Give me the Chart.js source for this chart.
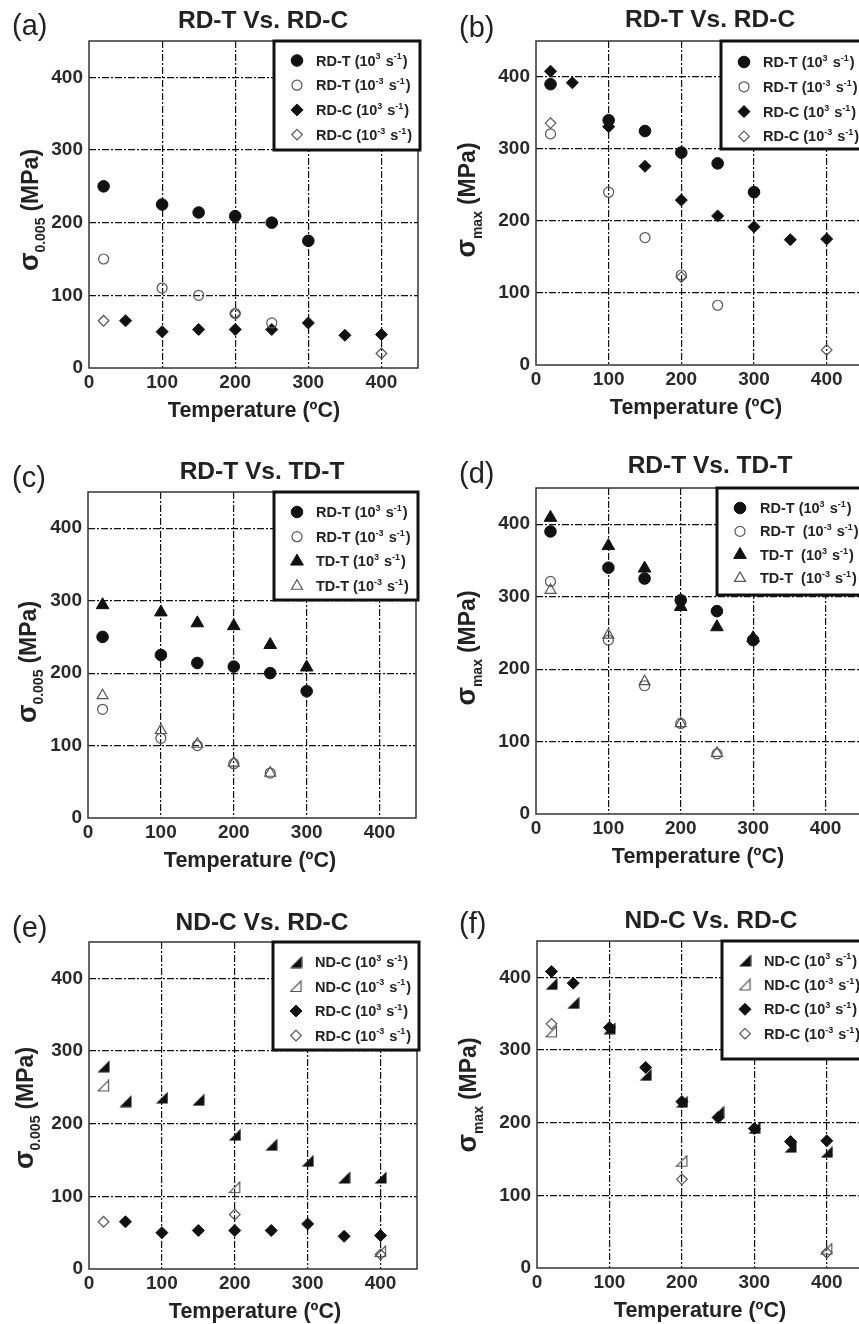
<!DOCTYPE html>
<html><head><meta charset="utf-8">
<script src="https://cdn.jsdelivr.net/npm/chart.js@4.4.0/dist/chart.umd.min.js"></script>
<style>
html,body{margin:0;padding:0;background:#fff;overflow:hidden;width:859px;height:1324px;position:relative}
canvas{position:absolute;display:block}
</style></head>
<body>
<canvas id="pa" width="430" height="440" style="left:0;top:0"></canvas>
<canvas id="pb" width="440" height="440" style="left:430px;top:0"></canvas>
<canvas id="pc" width="430" height="440" style="left:0;top:440px"></canvas>
<canvas id="pd" width="440" height="440" style="left:430px;top:440px"></canvas>
<canvas id="pe" width="430" height="444" style="left:0;top:880px"></canvas>
<canvas id="pf" width="440" height="444" style="left:430px;top:880px"></canvas>
<script>
// ---------------- DATA ----------------
const tickValues = [0, 100, 200, 300, 400];
const axisMin = 0, axisMax = 450;

// temperatures (°C)
const T_RDT_HI = [20, 100, 150, 200, 250, 300];
const T_RDT_LO = [20, 100, 150, 200, 250];
const T_RDC_HI_Y = [50, 100, 150, 200, 250, 300, 350, 400];
const T_RDC_HI_M = [20, 50, 100, 150, 200, 250, 300, 350, 400];
const T_RDC_LO = [20, 200, 400];
const T_TDT_HI = [20, 100, 150, 200, 250, 300];
const T_TDT_LO = [20, 100, 150, 200, 250];
const T_NDC_HI = [20, 50, 100, 150, 200, 250, 300, 350, 400];
const T_NDC_LO = [20, 200, 400];

// sigma_0.005 (MPa)
const Y_RDT_HI = [250, 225, 214, 209, 200, 175];
const Y_RDT_LO = [150, 110, 100, 75, 62];
const Y_RDC_HI = [65, 50, 53, 53, 53, 62, 45, 46];
const Y_RDC_LO = [65, 75, 20];
const Y_TDT_HI = [294, 284, 269, 265, 239, 208];
const Y_TDT_LO = [169, 121, 102, 76, 62];
const Y_NDC_HI = [279, 231, 236, 233, 185, 171, 149, 126, 126];
const Y_NDC_LO = [252, 112, 24];

// sigma_max (MPa)
const M_RDT_HI = [390, 340, 325, 295, 280, 240];
const M_RDT_LO = [321, 240, 177, 125, 83];
const M_RDC_HI = [408, 392, 331, 276, 229, 207, 192, 174, 175];
const M_RDC_LO = [336, 122, 21];
const M_TDT_HI = [409, 370, 339, 286, 258, 243];
const M_TDT_LO = [309, 247, 183, 125, 84];
const M_NDC_HI = [391, 365, 330, 266, 229, 215, 193, 167, 160];
const M_NDC_LO = [325, 147, 26];

const panelLetters = ['(a)', '(b)', '(c)', '(d)', '(e)', '(f)'];
const panelTitles = ['RD-T Vs. RD-C', 'RD-T Vs. RD-C', 'RD-T Vs. TD-T', 'RD-T Vs. TD-T', 'ND-C Vs. RD-C', 'ND-C Vs. RD-C'];
const xTitle = 'Temperature (ºC)';
const yTitleYield = ['σ', '0.005', '(MPa)'];
const yTitleMax = ['σ', 'max', '(MPa)'];
const rateHi = '3', rateLo = '-3';

// ---------------- STYLES ----------------
const FONT = '"Liberation Sans", Arial, Helvetica, sans-serif';
function rtCanvas(filled) {
  const c = document.createElement('canvas'); c.width = 13; c.height = 13;
  const g = c.getContext('2d');
  g.beginPath();
  if (filled) {
    g.moveTo(12.5, 0.5); g.lineTo(12.5, 12.5); g.lineTo(0.5, 12.5); g.closePath();
    g.fillStyle = '#111'; g.fill();
  } else {
    g.moveTo(11.5, 1); g.lineTo(11.5, 11.5); g.lineTo(1, 11.5); g.closePath();
    g.strokeStyle = '#555'; g.lineWidth = 1.2; g.stroke();
  }
  return c;
}
const ST = {
  fCircle:  {ps: 'circle',  r: 5.8, bg: '#111', border: '#111', bw: 1},
  oCircle:  {ps: 'circle',  r: 5,   bg: 'rgba(0,0,0,0)', border: '#555', bw: 1.2},
  fDiamond: {ps: 'rectRot', r: 6,   bg: '#111', border: '#111', bw: 1},
  oDiamond: {ps: 'rectRot', r: 5.3, bg: 'rgba(0,0,0,0)', border: '#555', bw: 1.2},
  fTri:     {ps: 'triangle', r: 7.3, bg: '#111', border: '#111', bw: 1},
  oTri:     {ps: 'triangle', r: 6.3, bg: 'rgba(0,0,0,0)', border: '#555', bw: 1.2},
  fRT:      {img: rtCanvas(true)},
  oRT:      {img: rtCanvas(false)}
};

function S(name, rate, x, y, st) { return {name, rate, x, y, st}; }

const panels = [
  { id: 'pa', L: 89, T: 41, R: 418, B: 368, yt: yTitleYield, ytPos: [30, 210], xtcx: 254,
    lx: 12, lb: 35, tcx: 263, tb: 28, legDx: 185, legH: 109, row0: 19.5, rowDy: 24.7, txtDx: 42,
    series: [S('RD-T', rateHi, T_RDT_HI, Y_RDT_HI, ST.fCircle), S('RD-T', rateLo, T_RDT_LO, Y_RDT_LO, ST.oCircle),
             S('RD-C', rateHi, T_RDC_HI_Y, Y_RDC_HI, ST.fDiamond), S('RD-C', rateLo, T_RDC_LO, Y_RDC_LO, ST.oDiamond)] },
  { id: 'pb', L: 106, T: 41, R: 434, B: 365, yt: yTitleMax, ytPos: [37, 200], xtcx: 266,
    lx: 29, lb: 37, tcx: 280, tb: 27, legDx: 185, legH: 108, row0: 21, rowDy: 24.8, txtDx: 42,
    series: [S('RD-T', rateHi, T_RDT_HI, M_RDT_HI, ST.fCircle), S('RD-T', rateLo, T_RDT_LO, M_RDT_LO, ST.oCircle),
             S('RD-C', rateHi, T_RDC_HI_M, M_RDC_HI, ST.fDiamond), S('RD-C', rateLo, T_RDC_LO, M_RDC_LO, ST.oDiamond)] },
  { id: 'pc', L: 88, T: 52, R: 416, B: 378, yt: yTitleYield, ytPos: [28, 222], xtcx: 250,
    lx: 12, lb: 47, tcx: 262, tb: 39, legDx: 186, legH: 108, row0: 20, rowDy: 24.7, txtDx: 42,
    series: [S('RD-T', rateHi, T_RDT_HI, Y_RDT_HI, ST.fCircle), S('RD-T', rateLo, T_RDT_LO, Y_RDT_LO, ST.oCircle),
             S('TD-T', rateHi, T_TDT_HI, Y_TDT_HI, ST.fTri), S('TD-T', rateLo, T_TDT_LO, Y_TDT_LO, ST.oTri)] },
  { id: 'pd', L: 106, T: 48, R: 434, B: 374, yt: yTitleMax, ytPos: [37, 208], xtcx: 268,
    lx: 29, lb: 43, tcx: 280, tb: 33, legDx: 181, legH: 107, row0: 20, rowDy: 23.4, txtDx: 43,
    series: [S('RD-T', rateHi, T_RDT_HI, M_RDT_HI, ST.fCircle), S('RD-T ', rateLo, T_RDT_LO, M_RDT_LO, ST.oCircle),
             S('TD-T ', rateHi, T_TDT_HI, M_TDT_HI, ST.fTri), S('TD-T ', rateLo, T_TDT_LO, M_TDT_LO, ST.oTri)] },
  { id: 'pe', L: 89, T: 62, R: 417, B: 389, yt: yTitleYield, ytPos: [25, 228], xtcx: 255,
    lx: 12, lb: 57, tcx: 262, tb: 50, legDx: 184, legH: 108, row0: 20, rowDy: 24.5, txtDx: 42,
    series: [S('ND-C', rateHi, T_NDC_HI, Y_NDC_HI, ST.fRT), S('ND-C', rateLo, T_NDC_LO, Y_NDC_LO, ST.oRT),
             S('RD-C', rateHi, T_RDC_HI_Y, Y_RDC_HI, ST.fDiamond), S('RD-C', rateLo, T_RDC_LO, Y_RDC_LO, ST.oDiamond)] },
  { id: 'pf', L: 107, T: 61, R: 435, B: 388, yt: yTitleMax, ytPos: [38, 215], xtcx: 270,
    lx: 29, lb: 53, tcx: 281, tb: 48, legDx: 185, legH: 118, row0: 19.5, rowDy: 24.4, txtDx: 42,
    series: [S('ND-C', rateHi, T_NDC_HI, M_NDC_HI, ST.fRT), S('ND-C', rateLo, T_NDC_LO, M_NDC_LO, ST.oRT),
             S('RD-C', rateHi, T_RDC_HI_M, M_RDC_HI, ST.fDiamond), S('RD-C', rateLo, T_RDC_LO, M_RDC_LO, ST.oDiamond)] }
];

// ---------------- DRAW HELPERS ----------------
function drawMarker(ctx, st, x, y) {
  if (st.img) { ctx.drawImage(st.img, x - st.img.width / 2, y - st.img.height / 2); return; }
  ctx.save();
  ctx.fillStyle = st.bg; ctx.strokeStyle = st.border; ctx.lineWidth = st.bw;
  ctx.beginPath();
  const r = st.r;
  if (st.ps === 'circle') ctx.arc(x, y, r, 0, Math.PI * 2);
  else if (st.ps === 'rectRot') { ctx.moveTo(x, y - r); ctx.lineTo(x + r, y); ctx.lineTo(x, y + r); ctx.lineTo(x - r, y); ctx.closePath(); }
  else if (st.ps === 'triangle') { ctx.moveTo(x, y - r); ctx.lineTo(x + r * 0.866, y + r / 2); ctx.lineTo(x - r * 0.866, y + r / 2); ctx.closePath(); }
  ctx.fill(); ctx.stroke();
  ctx.restore();
}

function drawSegs(ctx, segs, x, y, size) {
  ctx.textAlign = 'left'; ctx.textBaseline = 'alphabetic';
  segs.forEach(s => {
    const f = s.sup ? size * 0.62 : size;
    ctx.font = 'bold ' + f + 'px ' + FONT;
    ctx.fillText(s.t, x, s.sup ? y - size * 0.42 : y);
    x += ctx.measureText(s.t).width + (s.sup ? 1 : 0);
  });
}

function decoPlugin(p, idx) {
  return {
    id: 'deco' + idx,
    afterDraw(chart) {
      const ctx = chart.ctx, ca = chart.chartArea;
      ctx.save();
      // frame
      ctx.strokeStyle = '#333'; ctx.lineWidth = 1.5;
      ctx.strokeRect(ca.left, ca.top, ca.right - ca.left, ca.bottom - ca.top);
      // legend box
      const lx = ca.left + p.legDx, ty = ca.top, rx = ca.right + 2, by = ca.top + p.legH;
      ctx.fillStyle = '#fff'; ctx.fillRect(lx, ty, rx - lx, by - ty);
      ctx.strokeStyle = '#111'; ctx.lineWidth = 3;
      ctx.strokeRect(lx, ty, rx - lx, by - ty);
      p.series.forEach((s, i) => {
        const cy = ty + p.row0 + i * p.rowDy;
        drawMarker(ctx, s.st, lx + 23, cy);
        ctx.fillStyle = '#222';
        drawSegs(ctx, [{t: s.name + ' (10'}, {t: s.rate, sup: true}, {t: ' s'}, {t: '-1', sup: true}, {t: ')'}], lx + p.txtDx, cy + 5, 14.5);
      });
      // panel letter
      ctx.fillStyle = '#222'; ctx.textBaseline = 'alphabetic';
      ctx.font = '29px ' + FONT; ctx.textAlign = 'left';
      ctx.fillText(panelLetters[idx], p.lx, p.lb);
      // title
      ctx.font = 'bold 24.5px ' + FONT; ctx.textAlign = 'center';
      ctx.fillText(panelTitles[idx], p.tcx, p.tb);
      // x title
      ctx.font = 'bold 21.5px ' + FONT;
      ctx.fillText(xTitle, p.xtcx, ca.bottom + 49);
      // y title (rotated)
      ctx.translate(p.ytPos[0], p.ytPos[1]); ctx.rotate(-Math.PI / 2);
      const fMain = 'bold 23px ' + FONT, fSig = 'bold 27px ' + FONT, fSub = 'bold 14px ' + FONT;
      ctx.font = fSig; const w1 = ctx.measureText(p.yt[0]).width;
      ctx.font = fSub; const w2 = ctx.measureText(p.yt[1]).width;
      ctx.font = fMain; const w3 = ctx.measureText(p.yt[2]).width;
      const gap = 6;
      let x = -(w1 + w2 + gap + w3) / 2;
      ctx.textAlign = 'left';
      ctx.font = fSig; ctx.fillText(p.yt[0], x, 8); x += w1;
      ctx.font = fSub; ctx.fillText(p.yt[1], x, 15); x += w2 + gap;
      ctx.font = fMain; ctx.fillText(p.yt[2], x, 8);
      ctx.restore();
    }
  };
}

function gridColor(c) { return (c.tick && c.tick.value === 0) ? 'rgba(0,0,0,0)' : '#111'; }

panels.forEach((p, idx) => {
  const canvas = document.getElementById(p.id);
  const W = canvas.width, H = canvas.height;
  const tickFont = {family: FONT, size: 19, weight: 'bold'};
  new Chart(canvas, {
    type: 'scatter',
    data: {
      datasets: p.series.map(s => ({
        label: s.name,
        data: s.x.map((v, i) => ({x: v, y: s.y[i]})),
        pointStyle: s.st.img || s.st.ps,
        pointRadius: s.st.r || 6,
        pointHoverRadius: s.st.r || 6,
        pointBackgroundColor: s.st.bg || '#111',
        pointBorderColor: s.st.border || '#111',
        pointBorderWidth: s.st.bw || 0,
        showLine: false
      }))
    },
    options: {
      responsive: false, animation: false, events: [],
      layout: {padding: {top: p.T, right: W - p.R, left: 0, bottom: 0}},
      plugins: {legend: {display: false}, tooltip: {enabled: false}, title: {display: false}},
      scales: {
        x: {
          type: 'linear', min: axisMin, max: axisMax,
          afterFit: s => { s.height = H - p.B; },
          afterBuildTicks: s => { s.ticks = tickValues.map(v => ({value: v})); },
          ticks: {font: tickFont, color: '#2a2a2a', padding: 3, maxRotation: 0, autoSkip: false},
          grid: {drawTicks: false, color: gridColor, lineWidth: 1.2},
          border: {display: false, dash: [7, 2, 2, 2]}
        },
        y: {
          type: 'linear', min: axisMin, max: axisMax,
          afterFit: s => { s.width = p.L; },
          afterBuildTicks: s => { s.ticks = tickValues.map(v => ({value: v})); },
          ticks: {font: tickFont, color: '#2a2a2a', padding: 6, autoSkip: false},
          grid: {drawTicks: false, color: gridColor, lineWidth: 1.2},
          border: {display: false, dash: [7, 2, 2, 2]}
        }
      }
    },
    plugins: [decoPlugin(p, idx)]
  });
});
</script>
</body></html>
